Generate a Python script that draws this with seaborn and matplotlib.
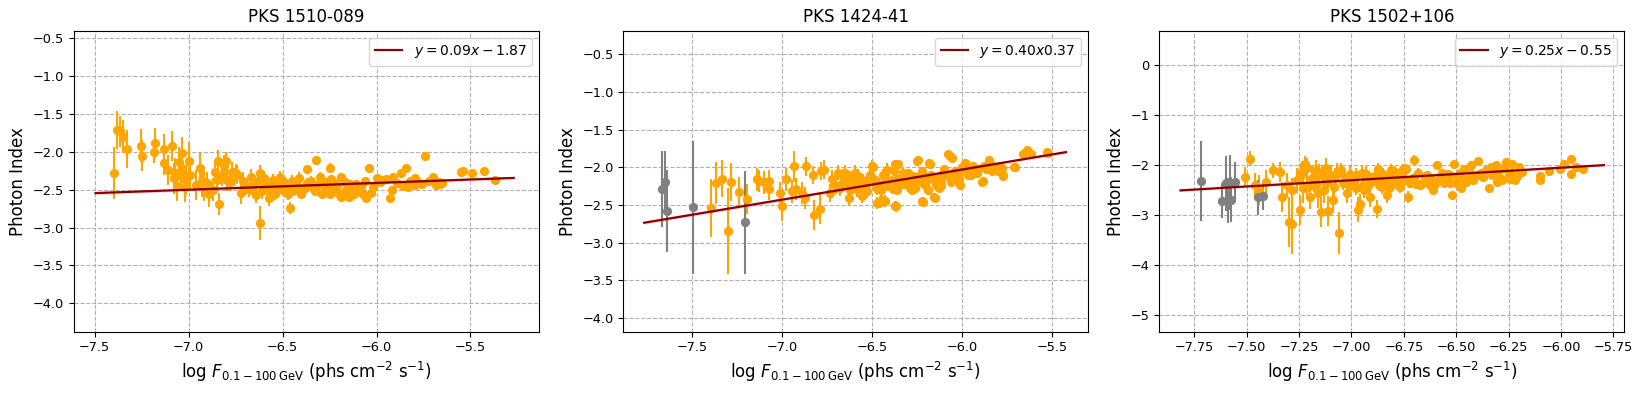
import numpy as np
import pandas as pd
import matplotlib
matplotlib.use("Agg")
import matplotlib.pyplot as plt
import seaborn as sns


# source names (panel titles)
titles = ["PKS 1510-089", "PKS 1424-41", "PKS 1502+106"]

# fit coefficients as printed in the legends
slopes = [0.09, 0.40, 0.25]
intercepts = [-1.87, 0.37, -0.55]
fit_labels = [r"$y = 0.09x - 1.87$", r"$y = 0.40x0.37$", r"$y = 0.25x - 0.55$"]

# PKS 1510-089 : log flux, photon index, index error
x1 = [-7.395, -7.38, -7.365, -7.35, -7.33, -7.256, -7.25, -7.18, -7.185, -7.13,
      -7.13, -7.09, -7.11, -7.08, -7.07, -7.05, -7.035, -7.035, -7.015, -7.0,
      -6.99, -7.02, -6.96, -6.94, -6.93, -6.90, -6.87, -6.86, -6.85, -6.845,
      -6.84, -6.81, -6.80, -6.795, -6.77, -6.75, -6.72, -6.71, -6.67, -6.64,
      -6.62, -6.62, -6.59, -6.57, -6.55, -6.53, -6.515, -6.49, -6.46, -6.45,
      -6.42, -6.395, -6.37, -6.37, -6.34, -6.32, -6.30, -6.275, -6.25, -6.25,
      -6.22, -6.19, -6.19, -6.145, -6.13, -6.10, -6.06, -6.055, -6.04, -6.03,
      -6.0, -5.97, -5.93, -5.92, -5.91, -5.89, -5.87, -5.845, -5.82, -5.795,
      -5.795, -5.74, -5.72, -5.70, -5.685, -5.65, -5.55, -5.54, -5.49, -5.43,
      -5.37, -6.66, -6.63, -6.61, -6.60, -6.58, -6.56, -6.54, -6.52, -6.50,
      -6.48, -6.47, -6.44, -6.43, -6.41, -6.40, -6.38, -6.35, -6.33, -6.31,
      -6.29, -6.27, -6.26, -6.24, -6.23, -6.21, -6.20, -6.17, -6.16, -6.14,
      -6.12, -6.11, -6.08, -6.07, -6.02, -5.98, -5.95, -5.86, -5.83, -5.78,
      -5.76, -5.67, -5.66, -6.92, -6.89, -6.82, -6.78, -6.76, -6.74, -6.69,
      -6.68, -7.06, -7.04]
y1 = [-2.28, -1.71, -1.73, -1.80, -1.96, -1.92, -2.05, -1.88, -2.00, -1.96,
      -2.15, -1.92, -2.24, -2.35, -2.28, -2.14, -2.01, -2.21, -2.37, -2.12,
      -2.30, -2.46, -2.44, -2.21, -2.39, -2.41, -2.50, -2.26, -2.37, -2.12,
      -2.69, -2.19, -2.12, -2.37, -2.26, -2.28, -2.54, -2.39, -2.33, -2.57,
      -2.94, -2.28, -2.46, -2.61, -2.37, -2.50, -2.33, -2.52, -2.74, -2.39,
      -2.46, -2.52, -2.23, -2.41, -2.46, -2.11, -2.33, -2.50, -2.21, -2.55,
      -2.41, -2.59, -2.33, -2.59, -2.46, -2.52, -2.39, -2.61, -2.21, -2.54,
      -2.35, -2.37, -2.61, -2.50, -2.33, -2.41, -2.28, -2.21, -2.39, -2.35,
      -2.44, -2.06, -2.39, -2.33, -2.44, -2.41, -2.27, -2.25, -2.28, -2.25,
      -2.37, -2.45, -2.38, -2.52, -2.35, -2.50, -2.42, -2.55, -2.45, -2.38,
      -2.47, -2.55, -2.50, -2.42, -2.35, -2.55, -2.48, -2.38, -2.52, -2.44,
      -2.56, -2.40, -2.48, -2.36, -2.52, -2.45, -2.56, -2.40, -2.50, -2.42,
      -2.55, -2.43, -2.47, -2.56, -2.47, -2.40, -2.36, -2.45, -2.47, -2.40,
      -2.43, -2.40, -2.43, -2.45, -2.55, -2.30, -2.40, -2.33, -2.30, -2.45,
      -2.50, -2.45, -2.32]
e1 = [0.34, 0.25, 0.20, 0.22, 0.25, 0.22, 0.20, 0.20, 0.15, 0.20,
      0.15, 0.20, 0.20, 0.20, 0.20, 0.20, 0.20, 0.20, 0.20, 0.25,
      0.20, 0.20, 0.20, 0.20, 0.20, 0.15, 0.15, 0.15, 0.15, 0.15,
      0.15, 0.15, 0.12, 0.15, 0.12, 0.12, 0.15, 0.12, 0.10, 0.10,
      0.22, 0.10, 0.10, 0.10, 0.08, 0.08, 0.08, 0.08, 0.08, 0.08,
      0.08, 0.08, 0.06, 0.06, 0.06, 0.06, 0.06, 0.06, 0.06, 0.06,
      0.05, 0.05, 0.05, 0.05, 0.05, 0.05, 0.05, 0.05, 0.05, 0.05,
      0.04, 0.04, 0.04, 0.04, 0.04, 0.04, 0.04, 0.04, 0.04, 0.04,
      0.04, 0.04, 0.04, 0.04, 0.04, 0.03, 0.03, 0.03, 0.03, 0.03,
      0.03, 0.10, 0.10, 0.10, 0.10, 0.10, 0.08, 0.08, 0.08, 0.08,
      0.08, 0.08, 0.08, 0.08, 0.08, 0.06, 0.06, 0.06, 0.06, 0.06,
      0.06, 0.06, 0.06, 0.06, 0.06, 0.05, 0.05, 0.05, 0.05, 0.05,
      0.05, 0.05, 0.05, 0.05, 0.05, 0.04, 0.04, 0.04, 0.04, 0.04,
      0.04, 0.03, 0.03, 0.20, 0.18, 0.15, 0.12, 0.12, 0.12, 0.10,
      0.10, 0.20, 0.20]
gx1, gy1, ge1 = [], [], []

# PKS 1424-41
x2 = [-7.395, -7.365, -7.33, -7.30, -7.28, -7.24, -7.195, -7.14, -7.125, -7.10,
      -7.07, -7.07, -7.01, -7.0, -6.975, -6.945, -6.93, -6.92, -6.89, -6.87,
      -6.865, -6.83, -6.82, -6.79, -6.785, -6.765, -6.735, -6.72, -6.69, -6.67,
      -6.65, -6.625, -6.595, -6.585, -6.555, -6.535, -6.5, -6.49, -6.475, -6.47,
      -6.445, -6.425, -6.415, -6.385, -6.37, -6.37, -6.35, -6.33, -6.29, -6.27,
      -6.25, -6.235, -6.225, -6.205, -6.185, -6.175, -6.155, -6.145, -6.115, -6.105,
      -6.08, -6.055, -6.045, -6.015, -6.01, -5.985, -5.965, -5.935, -5.89, -5.88,
      -5.85, -5.835, -5.78, -5.775, -5.715, -5.66, -5.64, -5.62, -5.53,
      -6.60, -6.56, -6.52, -6.46, -6.44, -6.40, -6.36, -6.31, -6.28, -6.21,
      -6.16, -6.13, -6.09, -6.03, -5.95, -5.91, -5.82, -6.68, -6.62, -6.58,
      -6.494, -6.457, -6.43, -6.368, -6.355, -6.244, -6.18, -6.217, -6.152, -6.069,
      -5.976, -5.884, -5.773, -5.708, -5.635, -5.524,
      -6.58, -6.57, -6.55, -6.53, -6.51, -6.48, -6.45, -6.43, -6.41, -6.39,
      -6.38, -6.36, -6.34, -6.32, -6.30, -6.28, -6.26, -6.24, -6.22, -6.20,
      -6.19, -6.17, -6.14, -6.12, -6.10, -6.08, -6.06, -6.04, -6.02, -6.00,
      -5.97, -5.94, -5.92, -5.87, -5.84, -5.80, -6.62, -6.64, -6.66, -6.70]
y2 = [-2.54, -2.21, -2.15, -2.85, -2.20, -2.33, -2.42, -2.16, -2.18, -2.20,
      -2.29, -2.18, -2.34, -2.51, -2.16, -2.32, -1.99, -2.29, -2.34, -2.41,
      -1.99, -2.10, -2.63, -2.55, -2.05, -2.03, -2.34, -2.16, -2.07, -2.23,
      -2.07, -2.41, -2.07, -2.29, -2.38, -2.23, -1.99, -2.16, -2.29, -2.48,
      -2.45, -2.16, -2.03, -2.29, -2.51, -1.96, -2.23, -2.07, -2.27, -2.12,
      -1.92, -2.19, -2.45, -2.23, -1.94, -2.14, -2.40, -2.23, -2.19, -2.07,
      -1.83, -1.88, -2.12, -2.07, -2.23, -1.94, -2.03, -2.05, -2.19, -1.99,
      -1.91, -2.05, -2.01, -2.10, -2.00, -1.82, -1.77, -1.82, -1.80,
      -2.20, -2.30, -2.15, -2.22, -2.10, -2.25, -2.15, -2.20, -2.30, -2.12,
      -2.15, -2.28, -2.10, -2.16, -2.10, -2.02, -2.00, -2.28, -2.15, -2.25,
      -2.00, -2.46, -2.45, -2.52, -1.96, -1.91, -1.96, -2.46, -2.41, -1.85,
      -1.96, -2.18, -2.11, -2.00, -1.78, -1.81,
      -2.12, -2.25, -2.18, -2.32, -2.10, -2.22, -2.30, -2.12, -2.25, -2.18,
      -2.05, -2.30, -2.15, -2.22, -2.08, -2.20, -2.28, -2.12, -2.05, -2.18,
      -2.30, -2.10, -2.15, -2.25, -2.02, -2.12, -2.20, -2.05, -2.15, -2.00,
      -2.10, -1.98, -2.08, -2.02, -1.97, -2.05, -2.30, -2.20, -2.12, -2.25]
e2 = [0.38, 0.28, 0.25, 0.57, 0.25, 0.20, 0.20, 0.15, 0.15, 0.15,
      0.15, 0.15, 0.15, 0.20, 0.15, 0.15, 0.20, 0.15, 0.15, 0.15,
      0.12, 0.12, 0.20, 0.20, 0.12, 0.12, 0.12, 0.12, 0.10, 0.10,
      0.10, 0.10, 0.10, 0.10, 0.10, 0.08, 0.08, 0.08, 0.08, 0.08,
      0.08, 0.08, 0.08, 0.06, 0.06, 0.06, 0.06, 0.06, 0.06, 0.06,
      0.05, 0.05, 0.05, 0.05, 0.05, 0.05, 0.05, 0.05, 0.05, 0.05,
      0.04, 0.04, 0.04, 0.04, 0.04, 0.04, 0.04, 0.04, 0.04, 0.04,
      0.04, 0.04, 0.03, 0.03, 0.03, 0.03, 0.03, 0.03, 0.03,
      0.10, 0.10, 0.08, 0.08, 0.08, 0.06, 0.06, 0.06, 0.06, 0.05,
      0.05, 0.05, 0.05, 0.04, 0.04, 0.04, 0.04, 0.10, 0.10, 0.10,
      0.06, 0.08, 0.08, 0.07, 0.06, 0.05, 0.05, 0.05, 0.05, 0.04,
      0.04, 0.04, 0.04, 0.03, 0.03, 0.03,
      0.10, 0.10, 0.09, 0.09, 0.08, 0.08, 0.08, 0.07, 0.07, 0.07,
      0.06, 0.06, 0.06, 0.06, 0.06, 0.05, 0.05, 0.05, 0.05, 0.05,
      0.05, 0.05, 0.05, 0.05, 0.04, 0.04, 0.04, 0.04, 0.04, 0.04,
      0.04, 0.04, 0.04, 0.04, 0.04, 0.03, 0.10, 0.10, 0.10, 0.10]
gx2 = [-7.664, -7.65, -7.635, -7.494, -7.205]
gy2 = [-2.29, -2.19, -2.58, -2.53, -2.73]
ge2 = [0.50, 0.40, 0.55, 0.88, 0.68]

# PKS 1502+106
x3 = [-7.51, -7.485, -7.46, -7.44, -7.41, -7.375, -7.34, -7.33, -7.31, -7.30,
      -7.285, -7.285, -7.26, -7.245, -7.235, -7.22, -7.21, -7.20, -7.18, -7.155,
      -7.145, -7.13, -7.115, -7.11, -7.10, -7.09, -7.085, -7.06, -7.05, -7.02,
      -7.005, -6.99, -6.97, -6.96, -6.945, -6.93, -6.91, -6.90, -6.88, -6.875,
      -6.855, -6.83, -6.815, -6.79, -6.77, -6.755, -6.74, -6.73, -6.71, -6.70,
      -6.675, -6.65, -6.625, -6.61, -6.59, -6.575, -6.56, -6.54, -6.52, -6.51,
      -6.49, -6.475, -6.465, -6.455, -6.43, -6.415, -6.395, -6.37, -6.345, -6.335,
      -6.31, -6.305, -6.28, -6.26, -6.245, -6.235, -6.22, -6.20, -6.185, -6.10,
      -6.10, -6.055, -6.005, -5.985, -5.95, -5.95, -5.93, -5.895,
      -7.17, -7.04, -6.98, -6.92, -6.86, -6.80, -6.76, -6.69, -6.64, -6.58,
      -6.53, -6.47, -6.42, -6.38, -6.29, -6.25,
      -7.24, -7.23, -7.21, -7.19, -7.17, -7.16, -7.14, -7.12, -7.12, -7.08,
      -7.07, -7.03, -7.01, -6.98, -6.95, -6.94, -6.91, -6.89, -6.87, -6.85,
      -6.84, -6.82, -6.81, -6.78, -6.76, -6.74, -6.72, -6.70, -6.68, -6.66,
      -6.64, -6.62, -6.60, -6.57, -6.55, -6.53, -6.50, -6.48, -6.45, -6.44,
      -6.40, -6.36, -6.33, -6.30, -6.27, -6.24, -6.21]
y3 = [-2.23, -1.87, -2.40, -2.50, -2.34, -2.10, -2.14, -2.63, -2.40, -3.13,
      -3.18, -2.50, -2.30, -2.89, -2.11, -1.97, -2.43, -2.63, -2.33, -2.17,
      -2.94, -2.50, -2.27, -2.91, -2.20, -2.70, -2.43, -3.36, -2.10, -2.55,
      -2.17, -2.34, -2.89, -2.77, -2.40, -2.17, -2.63, -2.30, -2.87, -2.07,
      -2.43, -2.60, -2.23, -2.14, -2.43, -2.07, -2.30, -2.63, -2.27, -1.89,
      -2.40, -2.23, -2.40, -2.50, -2.00, -2.27, -2.36, -2.17, -2.60, -1.97,
      -2.23, -2.46, -2.07, -2.33, -2.00, -2.23, -1.91, -2.23, -2.46, -2.03,
      -2.00, -2.33, -2.29, -1.93, -2.27, -1.98, -2.29, -2.03, -2.13, -2.22,
      -2.29, -2.11, -2.07, -1.97, -1.87, -2.17, -2.03, -2.07,
      -2.40, -2.35, -2.45, -2.42, -2.30, -2.38, -2.32, -2.38, -2.30, -2.30,
      -2.35, -2.25, -2.30, -2.15, -2.25, -2.20,
      -2.20, -2.45, -2.05, -2.25, -2.10, -2.55, -2.20, -2.35, -2.05, -2.25,
      -2.15, -2.30, -2.40, -2.20, -2.15, -2.50, -2.35, -2.22, -2.40, -2.18,
      -2.30, -2.45, -2.10, -2.30, -2.20, -2.08, -2.35, -2.25, -2.15, -2.35,
      -2.20, -2.28, -2.38, -2.15, -2.30, -2.20, -2.35, -2.15, -2.28, -2.10,
      -2.20, -2.10, -2.20, -2.12, -2.05, -2.15, -2.22]
e3 = [0.20, 0.15, 0.25, 0.30, 0.25, 0.15, 0.20, 0.30, 0.25, 0.50,
      0.60, 0.25, 0.25, 0.30, 0.20, 0.15, 0.25, 0.25, 0.20, 0.20,
      0.30, 0.25, 0.20, 0.30, 0.20, 0.25, 0.20, 0.42, 0.15, 0.20,
      0.15, 0.15, 0.25, 0.20, 0.15, 0.15, 0.20, 0.15, 0.18, 0.12,
      0.15, 0.15, 0.12, 0.12, 0.12, 0.10, 0.10, 0.12, 0.10, 0.10,
      0.10, 0.10, 0.10, 0.10, 0.08, 0.08, 0.08, 0.08, 0.08, 0.08,
      0.08, 0.08, 0.06, 0.06, 0.06, 0.06, 0.06, 0.06, 0.06, 0.06,
      0.05, 0.05, 0.05, 0.05, 0.05, 0.05, 0.05, 0.05, 0.05, 0.05,
      0.05, 0.04, 0.04, 0.04, 0.04, 0.04, 0.04, 0.04,
      0.20, 0.15, 0.15, 0.15, 0.12, 0.12, 0.10, 0.10, 0.10, 0.08,
      0.08, 0.08, 0.06, 0.06, 0.05, 0.05,
      0.25, 0.30, 0.20, 0.25, 0.20, 0.30, 0.20, 0.25, 0.20, 0.20,
      0.20, 0.15, 0.20, 0.15, 0.15, 0.15, 0.15, 0.12, 0.12, 0.12,
      0.12, 0.12, 0.12, 0.10, 0.10, 0.10, 0.10, 0.10, 0.10, 0.10,
      0.08, 0.08, 0.08, 0.08, 0.08, 0.08, 0.07, 0.07, 0.07, 0.06,
      0.06, 0.06, 0.06, 0.05, 0.05, 0.05, 0.05]
gx3 = [-7.716, -7.62, -7.60, -7.59, -7.58, -7.577, -7.555, -7.446, -7.42]
gy3 = [-2.32, -2.71, -2.36, -2.71, -2.35, -2.69, -2.34, -2.64, -2.62]
ge3 = [0.80, 0.35, 0.55, 0.45, 0.55, 0.45, 0.40, 0.35, 0.28]

# axis ranges
xlims = [(-7.61, -5.135), (-7.88, -5.30), (-7.917, -5.697)]
ylims = [(-4.375, -0.40), (-4.18, -0.19), (-5.33, 0.69)]

panels = [(x1, y1, e1, gx1, gy1, ge1),
          (x2, y2, e2, gx2, gy2, ge2),
          (x3, y3, e3, gx3, gy3, ge3)]

# axes placement in figure fractions (left, bottom, width, height)
positions = [[0.0450, 0.1581, 0.2829, 0.7640],
             [0.3791, 0.1581, 0.2829, 0.7640],
             [0.7052, 0.1581, 0.2829, 0.7640]]

xlabel = r"$\log\,F_{0.1-100\,\mathrm{GeV}}$ (phs cm$^{-2}$ s$^{-1}$)"

fig, axes = plt.subplots(1, 3, figsize=(16.44, 3.94), dpi=100)

for i, ax in enumerate(axes):
    ax.set_position(positions[i])
    x, y, e, gx, gy, ge = panels[i]
    df = pd.DataFrame({"flux": x, "index": y, "err": e})

    ax.errorbar(df["flux"], df["index"], yerr=df["err"], fmt="none",
                ecolor="orange", elinewidth=1.5, capsize=0, zorder=2)
    sns.scatterplot(data=df, x="flux", y="index", color="orange", s=44,
                    linewidth=0, ax=ax, zorder=3)

    if len(gx) > 0:
        gdf = pd.DataFrame({"flux": gx, "index": gy, "err": ge})
        ax.errorbar(gdf["flux"], gdf["index"], yerr=gdf["err"], fmt="none",
                    ecolor="grey", elinewidth=1.5, capsize=0, zorder=2)
        sns.scatterplot(data=gdf, x="flux", y="index", color="grey", s=44,
                        linewidth=0, ax=ax, zorder=3)

    # fitted line, stretched a little past the data
    allx = list(x) + list(gx)
    xf = np.linspace(min(allx) - 0.1, max(allx) + 0.1, 50)
    yf = slopes[i] * xf + intercepts[i]
    ax.fill_between(xf, yf - 0.02, yf + 0.02, color="red", alpha=0.15,
                    linewidth=0, zorder=4)
    sns.lineplot(x=xf, y=yf, color="darkred", linewidth=1.6, ax=ax,
                 label=fit_labels[i], zorder=5)

    ax.set_xlim(xlims[i])
    ax.set_ylim(ylims[i])
    ax.grid(True, linestyle="--", color="#b0b0b0", linewidth=0.8)
    ax.set_axisbelow(True)
    ax.set_title(titles[i], fontsize=12)
    ax.set_xlabel(xlabel, fontsize=12)
    ax.set_ylabel("Photon Index", fontsize=12)
    ax.tick_params(labelsize=9.3)
    ax.legend(loc="upper right", fontsize=10)

fig.savefig("out.png", dpi=100)
